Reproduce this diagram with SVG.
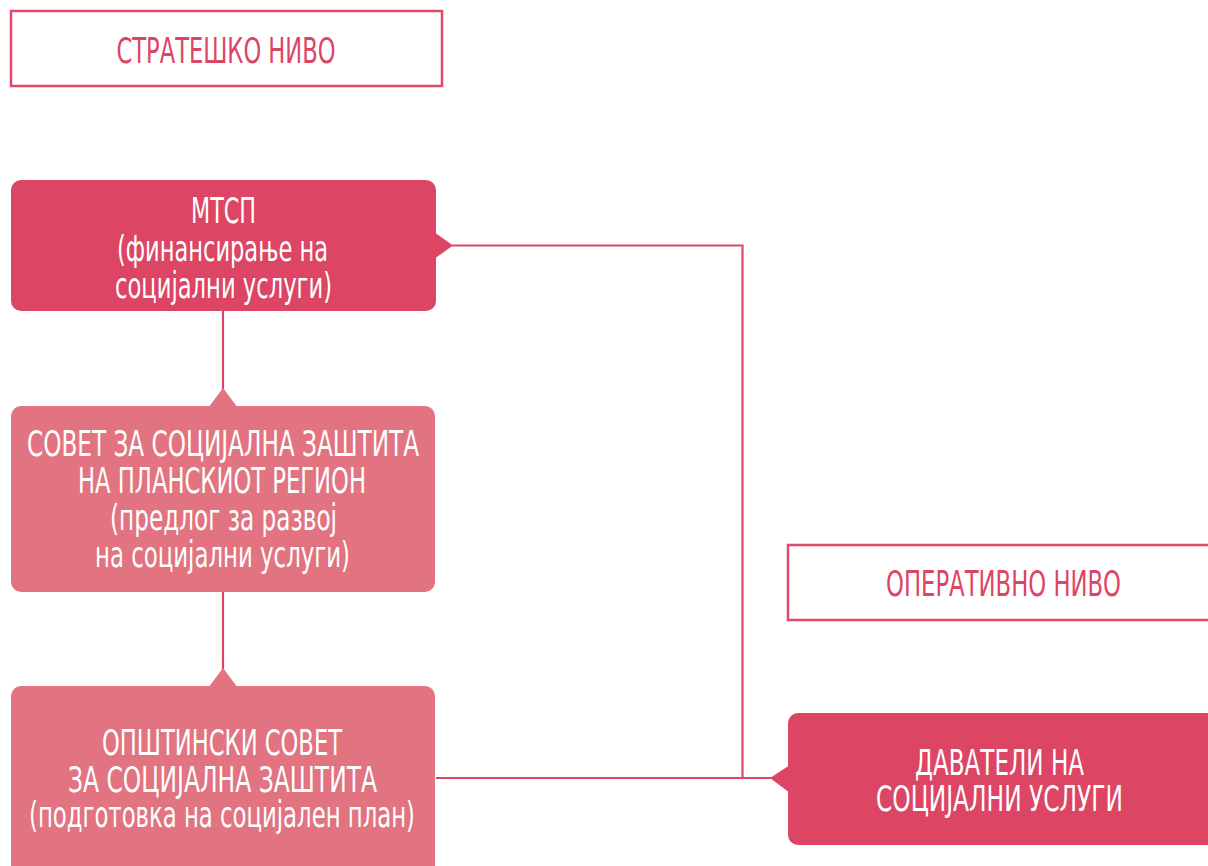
<svg xmlns="http://www.w3.org/2000/svg" width="1208" height="866" viewBox="0 0 1208 866">
<style>
.bg{fill:#ffffff}
.lvl{fill:#ffffff;stroke:#DF4A68;stroke-width:2.5}
.lvlt{fill:#DC4564;font-family:"Liberation Sans Narrow","DejaVu Sans Condensed",sans-serif;font-size:35px;text-anchor:middle}
.dark{fill:#DC4564}
.light{fill:#E17480}
.t{fill:#ffffff;font-family:"Liberation Sans Narrow","DejaVu Sans Condensed",sans-serif;font-size:35px;text-anchor:middle}
.con{fill:none;stroke:#DC4564;stroke-width:2.2}
</style>
<rect class="bg" x="0" y="0" width="1208" height="866"/>
<g id="connectors">
<path class="con" d="M452,245.5 H742.5 V778 H772"/>
<path class="con" d="M436,778 H742.5"/>
<path class="con" d="M223,311 V390"/>
<path class="con" d="M223,592 V670"/>
</g>
<g id="strateshko">
<rect class="lvl" x="11" y="11" width="431" height="75"/>
<text class="lvlt" x="226" y="63" textLength="219" lengthAdjust="spacingAndGlyphs">СТРАТЕШКО НИВО</text>
</g>
<g id="mtsp">
<rect class="dark" x="11" y="180" width="425" height="131" rx="10"/>
<polygon class="dark" points="434,232 453,245.5 434,259"/>
<text class="t" x="223.5" y="223" textLength="65" lengthAdjust="spacingAndGlyphs">МТСП</text>
<text class="t" x="222.5" y="261" textLength="211" lengthAdjust="spacingAndGlyphs">(финансирање на</text>
<text class="t" x="223.5" y="298" textLength="217" lengthAdjust="spacingAndGlyphs">социјални услуги)</text>
</g>
<g id="sovet-region">
<rect class="light" x="11" y="406" width="424" height="186" rx="10"/>
<polygon class="light" points="208,408 223,388 238,408"/>
<text class="t" x="223" y="456" textLength="392" lengthAdjust="spacingAndGlyphs">СОВЕТ ЗА СОЦИЈАЛНА ЗАШТИТА</text>
<text class="t" x="222" y="493" textLength="288" lengthAdjust="spacingAndGlyphs">НА ПЛАНСКИОТ РЕГИОН</text>
<text class="t" x="223.5" y="530" textLength="227" lengthAdjust="spacingAndGlyphs">(предлог за развој</text>
<text class="t" x="222.5" y="567" textLength="255" lengthAdjust="spacingAndGlyphs">на социјални услуги)</text>
</g>
<g id="opshtinski-sovet">
<rect class="light" x="11" y="686" width="424" height="190" rx="10"/>
<polygon class="light" points="208,688 223,668 238,688"/>
<text class="t" x="222" y="755" textLength="240" lengthAdjust="spacingAndGlyphs">ОПШТИНСКИ СОВЕТ</text>
<text class="t" x="222.5" y="792" textLength="309" lengthAdjust="spacingAndGlyphs">ЗА СОЦИЈАЛНА ЗАШТИТА</text>
<text class="t" x="222" y="827" textLength="386" lengthAdjust="spacingAndGlyphs">(подготовка на социјален план)</text>
</g>
<g id="operativno">
<rect class="lvl" x="788" y="545" width="430" height="75"/>
<text class="lvlt" x="1003.5" y="596" textLength="235" lengthAdjust="spacingAndGlyphs">ОПЕРАТИВНО НИВО</text>
</g>
<g id="davateli">
<rect class="dark" x="788" y="713" width="432" height="132" rx="10"/>
<polygon class="dark" points="790,765 770,778 790,793"/>
<text class="t" x="999.5" y="775" textLength="169" lengthAdjust="spacingAndGlyphs">ДАВАТЕЛИ НА</text>
<text class="t" x="999.5" y="811" textLength="247" lengthAdjust="spacingAndGlyphs">СОЦИЈАЛНИ УСЛУГИ</text>
</g>
</svg>
